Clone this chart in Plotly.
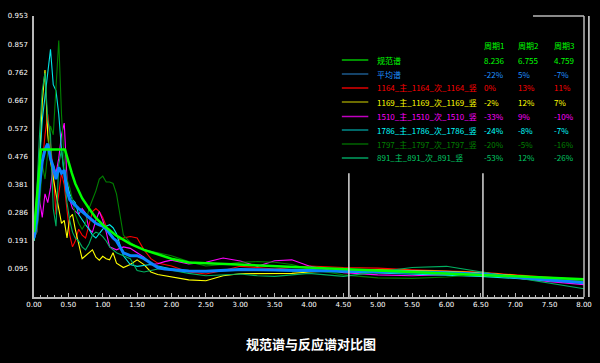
import plotly.graph_objects as go

# ---------------- data ----------------
periods = [0, 0.04, 0.08, 0.12, 0.16, 0.20, 0.24, 0.28, 0.32, 0.36, 0.40, 0.44, 0.48, 0.52, 0.56, 0.60,
           0.65, 0.70, 0.75, 0.80, 0.85, 0.90, 0.95, 1.00, 1.05, 1.10, 1.15, 1.20,
           1.30, 1.40, 1.50, 1.60, 1.70, 1.80, 1.90, 2.00,
           2.25, 2.50, 2.75, 3.00, 3.25, 3.50, 3.75, 4.00,
           4.50, 5.00, 5.50, 6.00, 6.50, 7.00, 7.50, 8.00]

code_T = [0, 0.10, 0.45, 0.50, 0.55, 0.60, 0.70, 0.80, 0.90, 1.00, 1.20, 1.40, 1.60, 1.80, 2.00, 2.25,
          3.00, 4.00, 5.00, 6.00, 7.00, 8.00]
code_v = [0.22, 0.50, 0.50, 0.455, 0.42, 0.385, 0.335, 0.30, 0.268, 0.245, 0.208, 0.18, 0.16, 0.145, 0.13, 0.117,
          0.11, 0.10, 0.09, 0.08, 0.07, 0.06]

avg_v = [0.20, 0.26, 0.38, 0.46, 0.50, 0.52, 0.47, 0.44, 0.40, 0.44, 0.42, 0.43, 0.36, 0.33, 0.32, 0.31,
         0.30, 0.29, 0.28, 0.27, 0.26, 0.25, 0.245, 0.24, 0.23, 0.215, 0.20, 0.19,
         0.15, 0.14, 0.14, 0.13, 0.115, 0.10, 0.095, 0.093,
         0.088, 0.087, 0.09, 0.093, 0.092, 0.092, 0.092, 0.09,
         0.088, 0.087, 0.085, 0.082, 0.077, 0.068, 0.058, 0.048]

s1164 = [0.21, 0.30, 0.40, 0.45, 0.55, 0.62, 0.52, 0.42, 0.28, 0.35, 0.42, 0.38, 0.30, 0.21, 0.17, 0.19,
         0.23, 0.21, 0.20, 0.25, 0.29, 0.30, 0.29, 0.27, 0.24, 0.22, 0.20, 0.19,
         0.20, 0.205, 0.20, 0.16, 0.13, 0.115, 0.11, 0.105,
         0.085, 0.078, 0.09, 0.104, 0.10, 0.095, 0.10, 0.105,
         0.10, 0.098, 0.092, 0.088, 0.085, 0.075, 0.066, 0.058]

s1169 = [0.19, 0.28, 0.45, 0.66, 0.77, 0.55, 0.46, 0.40, 0.35, 0.30, 0.25, 0.26, 0.20, 0.27, 0.28, 0.23,
         0.18, 0.13, 0.14, 0.15, 0.16, 0.135, 0.125, 0.138, 0.13, 0.126, 0.15, 0.115,
         0.10, 0.11, 0.126, 0.11, 0.085, 0.076, 0.072, 0.07,
         0.058, 0.055, 0.072, 0.079, 0.079, 0.079, 0.08, 0.085,
         0.09, 0.092, 0.09, 0.087, 0.082, 0.072, 0.064, 0.055]

s1510 = [0.20, 0.22, 0.33, 0.27, 0.35, 0.32, 0.37, 0.45, 0.42, 0.47, 0.55, 0.59, 0.40, 0.33, 0.30, 0.29,
         0.28, 0.30, 0.285, 0.23, 0.22, 0.26, 0.29, 0.26, 0.22, 0.17, 0.165, 0.16,
         0.17, 0.165, 0.15, 0.135, 0.11, 0.113, 0.12, 0.125,
         0.112, 0.118, 0.132, 0.122, 0.104, 0.123, 0.126, 0.105,
         0.082, 0.075, 0.072, 0.075, 0.08, 0.065, 0.052, 0.042]

s1786 = [0.19, 0.25, 0.45, 0.60, 0.68, 0.77, 0.84, 0.72, 0.70, 0.62, 0.50, 0.42, 0.38, 0.35, 0.33, 0.32,
         0.28, 0.26, 0.245, 0.23, 0.21, 0.20, 0.215, 0.23, 0.24, 0.245, 0.235, 0.215,
         0.14, 0.11, 0.104, 0.108, 0.11, 0.105, 0.10, 0.095,
         0.088, 0.088, 0.088, 0.09, 0.092, 0.09, 0.088, 0.087,
         0.085, 0.082, 0.078, 0.074, 0.07, 0.062, 0.055, 0.048]

s1797 = [0.20, 0.22, 0.30, 0.45, 0.40, 0.50, 0.58, 0.55, 0.70, 0.87, 0.62, 0.46, 0.40, 0.37, 0.33, 0.28,
         0.25, 0.23, 0.25, 0.30, 0.33, 0.36, 0.40, 0.41, 0.39, 0.39, 0.385, 0.35,
         0.21, 0.185, 0.17, 0.16, 0.155, 0.15, 0.145, 0.14,
         0.12, 0.105, 0.11, 0.118, 0.12, 0.118, 0.11, 0.095,
         0.075, 0.065, 0.063, 0.068, 0.078, 0.07, 0.062, 0.055]

s891 = [0.22, 0.35, 0.55, 0.70, 0.76, 0.60, 0.55, 0.30, 0.24, 0.45, 0.50, 0.40, 0.32, 0.26, 0.22, 0.20,
        0.19, 0.17, 0.16, 0.18, 0.21, 0.22, 0.215, 0.205, 0.19, 0.17, 0.16, 0.15,
        0.14, 0.13, 0.09, 0.085, 0.09, 0.095, 0.095, 0.09,
        0.08, 0.072, 0.075, 0.078, 0.072, 0.07, 0.075, 0.08,
        0.07, 0.085, 0.10, 0.104, 0.085, 0.065, 0.045, 0.028]

series_names = ["规范谱", "平均谱", "1164_主_1164_次_1164_竖", "1169_主_1169_次_1169_竖",
                "1510_主_1510_次_1510_竖", "1786_主_1786_次_1786_竖", "1797_主_1797_次_1797_竖",
                "891_主_891_次_891_竖"]
col_headers = ["周期1", "周期2", "周期3"]
table_values = [["8.236", "6.755", "4.759"],
                ["-22%", "5%", "-7%"],
                ["0%", "13%", "11%"],
                ["-2%", "12%", "7%"],
                ["-33%", "9%", "-10%"],
                ["-24%", "-8%", "-7%"],
                ["-20%", "-5%", "-16%"],
                ["-53%", "12%", "-26%"]]
marker_periods = [4.58, 6.53]
y_tick_labels = ["0.095", "0.191", "0.286", "0.381", "0.476", "0.572", "0.667", "0.762", "0.857", "0.953"]
title_text = "规范谱与反应谱对比图"

# ---------------- styles ----------------
text_colors = ["#00ff00", "#1e90ff", "#ff0000", "#ffff00", "#ff00ff", "#00ffff", "#008000", "#00c864"]
plot_colors = ["#00ff00", "#0a84ff", "#ff0000", "#ffff00", "#ff00ff", "#00e5e5", "#008000", "#00b060"]
legend_line_colors = ["#00c000", "#1c5a8c", "#e00000", "#909000", "#c000c0", "#008b8b", "#006400", "#00a060"]

W, H = 600, 363
L, R, T_, B = 31, 8, 16, 66
pw, ph = W - L - R, H - T_ - B


def px(x):
    return (x - L) / pw


def py(y):
    return (H - B - y) / ph


fig = go.Figure()
resp = [s1164, s1169, s1510, s1786, s1797, s891]
for i, s in enumerate(resp):
    fig.add_trace(go.Scatter(x=periods, y=s, mode="lines", name=series_names[i + 2],
                             line=dict(color=plot_colors[i + 2], width=1.1), showlegend=False))
fig.add_trace(go.Scatter(x=periods, y=avg_v, mode="lines", name=series_names[1],
                         line=dict(color=plot_colors[1], width=3), showlegend=False))
fig.add_trace(go.Scatter(x=code_T, y=code_v, mode="lines", name=series_names[0],
                         line=dict(color=plot_colors[0], width=2.5), showlegend=False))

axis_col = "#b8b8b8"
shapes = []
for p in marker_periods:
    shapes.append(dict(type="line", xref="x", yref="y", x0=p, x1=p, y0=0, y1=0.42,
                       line=dict(color="#d8d8d8", width=1.5)))
# right frame line and extra right-edge line
shapes.append(dict(type="line", xref="paper", yref="paper", x0=1, x1=1, y0=0, y1=1,
                   line=dict(color=axis_col, width=1.5)))
shapes.append(dict(type="line", xref="paper", yref="paper", x0=px(597), x1=px(597), y0=0, y1=1,
                   line=dict(color="#e0e0e0", width=1.5)))
# short top border at right
shapes.append(dict(type="line", xref="paper", yref="paper", x0=px(540), x1=1, y0=1, y1=1,
                   line=dict(color=axis_col, width=1.5)))

annotations = []
row_y = [60, 74, 88, 102, 116.5, 130, 144, 158]
col_x = [488, 523, 559]
fam = "Noto Sans CJK SC"
fs = 8
for j, h in enumerate(col_headers):
    annotations.append(dict(text=h, x=px(col_x[j]), y=py(45), xref="paper", yref="paper",
                            xanchor="left", yanchor="middle", showarrow=False,
                            font=dict(color="#00ff00", size=fs, family=fam)))
for i, name in enumerate(series_names):
    shapes.append(dict(type="line", xref="paper", yref="paper", x0=px(345), x1=px(372),
                       y0=py(row_y[i]), y1=py(row_y[i]),
                       line=dict(color=legend_line_colors[i], width=1.5)))
    annotations.append(dict(text=name, x=px(379), y=py(row_y[i]), xref="paper", yref="paper",
                            xanchor="left", yanchor="middle", showarrow=False,
                            font=dict(color=text_colors[i], size=fs, family=fam)))
    for j, v in enumerate(table_values[i]):
        annotations.append(dict(text=v, x=px(col_x[j]), y=py(row_y[i]), xref="paper", yref="paper",
                                xanchor="left", yanchor="middle", showarrow=False,
                                font=dict(color=text_colors[i], size=fs, family=fam)))

annotations.append(dict(text="<b>" + title_text + "</b>", x=px(314), y=py(343), xref="paper", yref="paper",
                        xanchor="center", yanchor="middle", showarrow=False,
                        font=dict(color="#ffffff", size=13, family=fam)))

tick_font = dict(color="#ffffff", size=7, family="DejaVu Sans")
fig.update_layout(
    width=W, height=H,
    margin=dict(l=L, r=R, t=T_, b=B, pad=0),
    paper_bgcolor="#000000", plot_bgcolor="#000000",
    shapes=shapes, annotations=annotations,
    xaxis=dict(range=[0, 8], showgrid=False, zeroline=False, showline=True, linecolor=axis_col,
               linewidth=1.5, dtick=0.5, tick0=0, tickformat=".2f",
               ticks="inside", ticklen=4, tickcolor=axis_col,
               minor=dict(dtick=0.1, ticks="inside", ticklen=2, tickcolor=axis_col),
               tickfont=tick_font),
    yaxis=dict(range=[0, 0.953], showgrid=False, zeroline=False, showline=True, linecolor=axis_col,
               linewidth=1.5, tickvals=[float(t) for t in y_tick_labels],
               ticktext=y_tick_labels, ticks="outside", ticklen=3, tickcolor="#000000",
               tickfont=tick_font),
)

fig.write_html("out.html")
